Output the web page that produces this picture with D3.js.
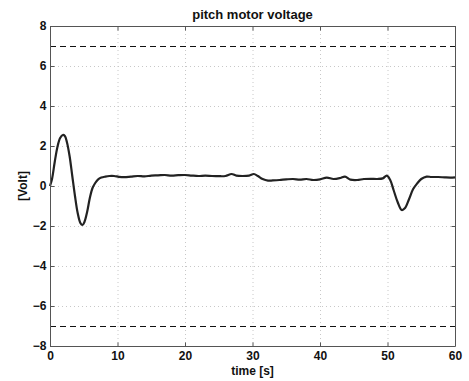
<!DOCTYPE html>
<html><head><meta charset="utf-8">
<script src="https://cdn.jsdelivr.net/npm/d3@7"></script>
<style>body{margin:0;background:#fff}svg{display:block}text{font-family:"Liberation Sans",Arial,sans-serif;font-weight:bold}</style>
</head><body><svg id="c" width="469" height="381"></svg>
<script>
const title = "pitch motor voltage";
const xLabel = "time [s]";
const yLabel = "[Volt]";
const xTicks = [0,10,20,30,40,50,60];
const yTicks = [-8,-6,-4,-2,0,2,4,6,8];
const limits = [7,-7];
const time = [0,0.3,0.7,1.1,1.5,1.9,2.2,2.5,2.9,3.3,3.7,4.1,4.5,4.8,5.1,5.5,5.9,6.3,6.7,7.1,7.6,8.2,8.8,9.5,10.2,11,12,13,14,15,16,17,18,19,20,21,22,23,24,25,26,26.9,27.6,28.5,29.5,30.2,30.8,31.5,32.3,33,34,35,36,37,38,39,40,41,42,43,43.7,44.5,45.5,46.5,47.5,48.5,49.3,49.9,50.4,50.9,51.5,52.1,52.6,53.2,53.8,54.4,55,55.8,56.5,57.5,58.5,59.3,60];
const volt = [0,0.35,1.2,1.95,2.4,2.55,2.5,2.2,1.5,0.5,-0.5,-1.35,-1.85,-1.95,-1.8,-1.3,-0.6,-0.1,0.15,0.32,0.42,0.47,0.5,0.5,0.46,0.44,0.47,0.5,0.48,0.52,0.53,0.55,0.52,0.54,0.55,0.52,0.5,0.52,0.5,0.49,0.5,0.6,0.52,0.5,0.52,0.6,0.5,0.35,0.27,0.28,0.3,0.33,0.35,0.32,0.35,0.3,0.33,0.42,0.35,0.4,0.47,0.32,0.3,0.35,0.36,0.35,0.38,0.52,0.3,-0.2,-0.8,-1.2,-1.1,-0.65,-0.15,0.13,0.35,0.47,0.45,0.45,0.43,0.42,0.43];

const L=50,R=455,T=26,B=346;
const svg=d3.select("#c");
const x=d3.scaleLinear().domain([0,60]).range([L,R]);
const y=d3.scaleLinear().domain([-8,8]).range([B,T]);
const fmt=d=>d<0?"\u2212"+Math.abs(d):String(d);
const FS=12;

// grid
svg.append("g").selectAll("line").data(xTicks.slice(1,-1)).join("line")
  .attr("x1",d=>x(d)+0.5).attr("x2",d=>x(d)+0.5).attr("y1",T).attr("y2",B)
  .attr("stroke","#c8c8c8").attr("stroke-dasharray","1,3");
svg.append("g").selectAll("line").data(yTicks.slice(1,-1)).join("line")
  .attr("y1",d=>y(d)+0.5).attr("y2",d=>y(d)+0.5).attr("x1",L).attr("x2",R)
  .attr("stroke","#c8c8c8").attr("stroke-dasharray","1,3");

// limits
svg.append("g").selectAll("line").data(limits).join("line")
  .attr("x1",L).attr("x2",R).attr("y1",d=>y(d)+0.5).attr("y2",d=>y(d)+0.5)
  .attr("stroke","#111").attr("stroke-dasharray","6,4");

// curve
const pts=time.map((t,i)=>[t,volt[i]]);
svg.append("path").datum(pts)
  .attr("d",d3.line().x(d=>x(d[0])).y(d=>y(d[1])).curve(d3.curveCatmullRom))
  .attr("fill","none").attr("stroke","#222").attr("stroke-width",2.2).attr("stroke-linejoin","round");

// axes (inward ticks)
const xa=d3.axisBottom(x).tickValues(xTicks).tickSize(-4).tickPadding(5).tickFormat(fmt);
const xt=d3.axisTop(x).tickValues(xTicks).tickSize(-4).tickFormat("");
const ya=d3.axisLeft(y).tickValues(yTicks).tickSize(-4).tickPadding(4).tickFormat(fmt);
const yr=d3.axisRight(y).tickValues(yTicks).tickSize(-4).tickFormat("");
function style(g){g.selectAll(".domain,line").attr("stroke","#555");g.selectAll("text").attr("fill","#111").attr("font-size",FS).attr("font-family","Liberation Sans, Arial, sans-serif").attr("font-weight","bold");}
svg.append("g").attr("transform",`translate(0,${B+0.5})`).call(xa).call(style).selectAll(".domain").attr("d",`M${L},0H${R}`);
svg.append("g").attr("transform",`translate(0,${T+0.5})`).call(xt).call(style).selectAll(".domain").attr("d",`M${L},0H${R}`);
svg.append("g").attr("transform",`translate(${L+0.5},0)`).call(ya).call(style).selectAll(".domain").attr("d",`M0,${T}V${B}`);
svg.append("g").attr("transform",`translate(${R+0.5},0)`).call(yr).call(style).selectAll(".domain").attr("d",`M0,${T}V${B}`);

svg.append("text").attr("x",(L+R)/2).attr("y",19).attr("text-anchor","middle").attr("font-size",13).attr("fill","#111").text(title);
svg.append("text").attr("x",(L+R)/2).attr("y",375).attr("text-anchor","middle").attr("font-size",FS).attr("fill","#111").text(xLabel);
svg.append("text").attr("transform",`translate(27,${(T+B)/2}) rotate(-90)`).attr("text-anchor","middle").attr("font-size",FS).attr("fill","#111").text(yLabel);
</script></body></html>
